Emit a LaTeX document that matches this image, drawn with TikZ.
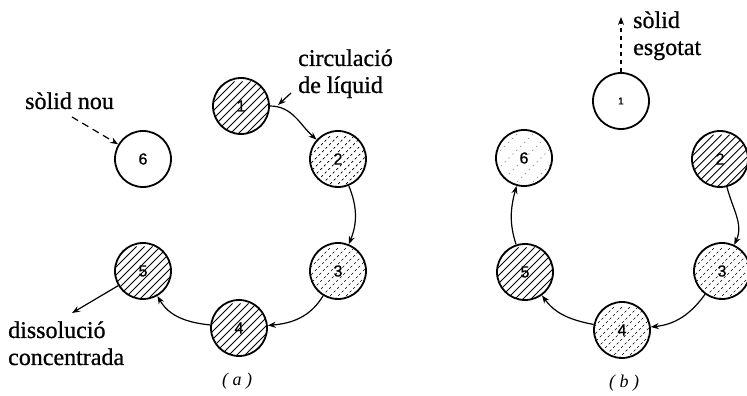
\documentclass[tikz,border=0pt]{standalone}
\usepackage{fontspec}
\setmainfont{Liberation Serif}
\newfontfamily\lblfont[FakeBold=0.8]{Liberation Serif}
\newfontfamily\numfont[FakeBold=0.8]{Liberation Sans}
\usetikzlibrary{arrows.meta}
\begin{document}
\begin{tikzpicture}[x=1pt,y=1pt,
  vessel/.style={circle,draw,line width=1.8pt,minimum size=56pt,inner sep=0pt,
    font=\numfont\fontsize{16}{16}\selectfont},
  hatchdark/.style={path picture={
    \foreach \k in {-56,-48,...,56}
      \draw[line width=0.9pt,shift={(path picture bounding box.center)}]
        ({\k*1pt-30pt},-30pt) -- ({\k*1pt+30pt},30pt);}},
  hatchlight/.style={path picture={
    \foreach \k in {-56,-48,...,56}
      \draw[line width=0.6pt,dash pattern=on 2.5pt off 2.5pt,shift={(path picture bounding box.center)}]
        ({\k*1pt-30pt},-30pt) -- ({\k*1pt+30pt},30pt);}},
  hatchfaint/.style={path picture={
    \foreach \k in {-48,-32,...,48}
      \draw[line width=0.5pt,dash pattern=on 1.5pt off 4pt,gray,shift={(path picture bounding box.center)}]
        ({\k*1pt-30pt},-30pt) -- ({\k*1pt+30pt},30pt);}},
  flow/.style={line width=1.2pt,-{Stealth[length=8pt,width=6pt]}},
  label/.style={font=\lblfont\fontsize{24}{27}\selectfont,align=left,inner sep=0pt},
  caption/.style={font=\itshape\fontsize{18}{18}\selectfont,inner sep=0pt}
]
\useasboundingbox (0,0) rectangle (747,396);

% ---- (a) ----
\node[vessel,hatchdark]  (a1) at (241,290) {1};
\node[vessel,hatchlight] (a2) at (338,237) {2};
\node[vessel,hatchlight] (a3) at (338,125) {3};
\node[vessel,hatchdark]  (a4) at (239,68)  {4};
\node[vessel,hatchdark]  (a5) at (143,125) {5};
\node[vessel]            (a6) at (143,237) {6};

\draw[flow] (a1) to[out=0,in=138] (a2);
\draw[flow] (a2) to[out=-68,in=68] (a3);
\draw[flow] (a3) to[out=-121,in=5] (a4);
\draw[flow] (a4) to[out=174,in=-60] (a5);

\node[label,anchor=base west] (snou) at (25,287) {sòlid nou};
\coordinate (snoustart) at (72,279);
\draw[flow,dash pattern=on 7pt off 5pt] (snoustart) -- (a6);

\node[label,anchor=base west] (circ) at (298,303) {circulació\\de líquid};
\coordinate (circstart) at (291,303);
\coordinate (circend) at (278,291);
\draw[flow] (circstart) -- (circend);

\node[label,anchor=base west] (dis) at (8,31) {dissolució\\concentrada};
\coordinate (disend) at (72,83);
\draw[flow] (a5) -- (disend);

\node[caption] (capa) at (237,15) {( a )};

% ---- (b) ----
\node[vessel,font=\numfont\fontsize{10}{10}\selectfont] (b1) at (621,295) {1};
\node[vessel,hatchdark]  (b2) at (720,237) {2};
\node[vessel,hatchlight] (b3) at (722,125) {3};
\node[vessel,hatchlight] (b4) at (622,66)  {4};
\node[vessel,hatchdark]  (b5) at (525,124) {5};
\node[vessel,hatchfaint] (b6) at (524,238) {6};

\draw[flow] (b2) to[out=-76,in=65] (b3);
\draw[flow] (b3) to[out=-126,in=6] (b4);
\draw[flow] (b4) to[out=169,in=-54] (b5);
\draw[flow] (b5) to[out=108,in=-105] (b6);

\coordinate (esgend) at (621,379);
\draw[flow,dash pattern=on 4pt off 4pt] (b1) -- (esgend);
\node[label,anchor=base west] (esg) at (633,341) {sòlid\\esgotat};

\node[caption] (capb) at (624,13) {( b )};
\end{tikzpicture}
\end{document}
